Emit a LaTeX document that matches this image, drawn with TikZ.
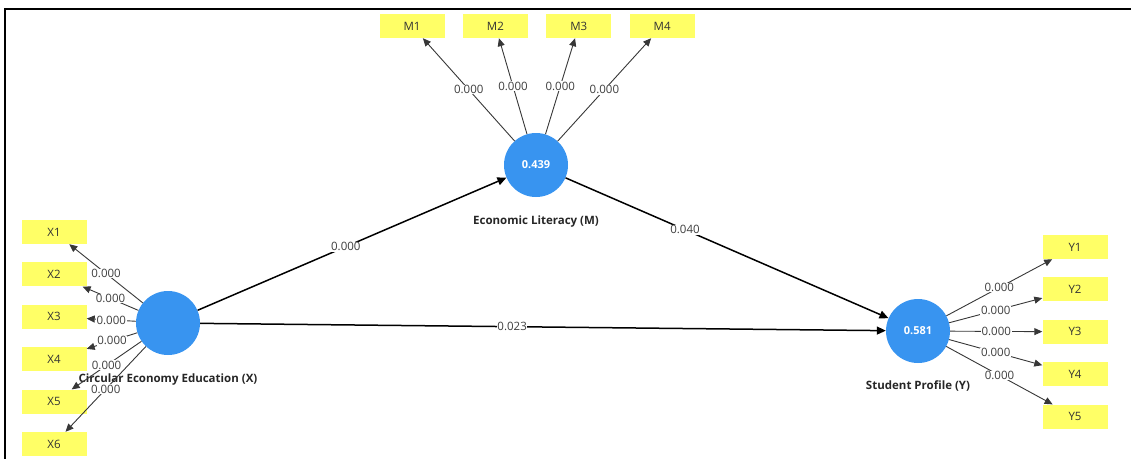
\documentclass[tikz,border=0pt]{standalone}
\usepackage{fontspec}
\setmainfont{Open Sans}
\usetikzlibrary{positioning, arrows.meta}
\definecolor{lvblue}{RGB}{56,148,240}
\definecolor{indyellow}{RGB}{255,255,102}
\definecolor{loadgray}{RGB}{55,55,55}

\begin{document}
\begin{tikzpicture}[
        x=1pt, y=-1pt,
        node distance=18pt,
        every node/.style={font=\fontsize{11.5}{13}\selectfont},
        latent/.style={circle, fill=lvblue, minimum size=64pt, inner sep=0pt, text=white, font=\fontsize{11}{13}\selectfont\bfseries},
        indicator/.style={rectangle, fill=indyellow, minimum width=65pt, minimum height=24pt, inner sep=0pt, text=black!80},
        lvname/.style={font=\fontsize{11.5}{13}\selectfont\bfseries, text=black!85},
        structpath/.style={-{Triangle[length=9pt,width=8pt]}, line width=1.5pt},
        loadpath/.style={-{Triangle[length=8pt,width=7pt]}, line width=0.9pt, draw=loadgray},
        pval/.style={fill=white, inner sep=0.6pt, text=black!75, font=\fontsize{11.5}{13}\selectfont}
    ]

    \useasboundingbox (0,0) rectangle (1131,459);
    \draw[line width=2.2pt] (1131,9) -- (5,9) -- (5,459);

    % latent variables
    \node[latent] (lvX) at (168,323) {};
    \node[latent] (lvM) at (536,165) {0.439};
    \node[latent] (lvY) at (918,331) {0.581};

    \node[lvname, below=15pt of lvX] (nameX) {Circular Economy Education (X)};
    \node[lvname, below=15pt of lvM] (nameM) {Economic Literacy (M)};
    \node[lvname, below=14pt of lvY] (nameY) {Student Profile (Y)};

    % indicators
    \node[indicator] (M1) at (412,26) {M1};
    \node[indicator, right=of M1] (M2) {M2};
    \node[indicator, right=of M2] (M3) {M3};
    \node[indicator, right=of M3] (M4) {M4};

    \node[indicator] (X1) at (54,232) {X1};
    \node[indicator, below=of X1] (X2) {X2};
    \node[indicator, below=of X2] (X3) {X3};
    \node[indicator, below=of X3] (X4) {X4};
    \node[indicator, below=of X4] (X5) {X5};
    \node[indicator, below=of X5] (X6) {X6};

    \node[indicator] (Y1) at (1075,247) {Y1};
    \node[indicator, below=of Y1] (Y2) {Y2};
    \node[indicator, below=of Y2] (Y3) {Y3};
    \node[indicator, below=of Y3] (Y4) {Y4};
    \node[indicator, below=of Y4] (Y5) {Y5};

    % outer model
    \draw[loadpath] (lvM) -- node[pval] {0.000} (M1);
    \draw[loadpath] (lvM) -- node[pval] {0.000} (M2);
    \draw[loadpath] (lvM) -- node[pval] {0.000} (M3);
    \draw[loadpath] (lvM) -- node[pval] {0.000} (M4);

    \draw[loadpath] (lvX) -- node[pval] {0.000} (X1);
    \draw[loadpath] (lvX) -- node[pval] {0.000} (X2);
    \draw[loadpath] (lvX) -- node[pval] {0.000} (X3);
    \draw[loadpath] (lvX) -- node[pval] {0.000} (X4);
    \draw[loadpath] (lvX) -- node[pval] {0.000} (X5);
    \draw[loadpath] (lvX) -- node[pval] {0.000} (X6);

    \draw[loadpath] (lvY) -- node[pval] {0.000} (Y1);
    \draw[loadpath] (lvY) -- node[pval] {0.000} (Y2);
    \draw[loadpath] (lvY) -- node[pval] {0.000} (Y3);
    \draw[loadpath] (lvY) -- node[pval] {0.000} (Y4);
    \draw[loadpath] (lvY) -- node[pval] {0.000} (Y5);

    % inner model
    \draw[structpath] (lvX) -- node[pval, pos=0.48] {0.000} (lvM);
    \draw[structpath] (lvM) -- node[pval, pos=0.37] {0.040} (lvY);
    \draw[structpath] (lvX) -- node[pval, pos=0.455] {0.023} (lvY);

\end{tikzpicture}
\end{document}
